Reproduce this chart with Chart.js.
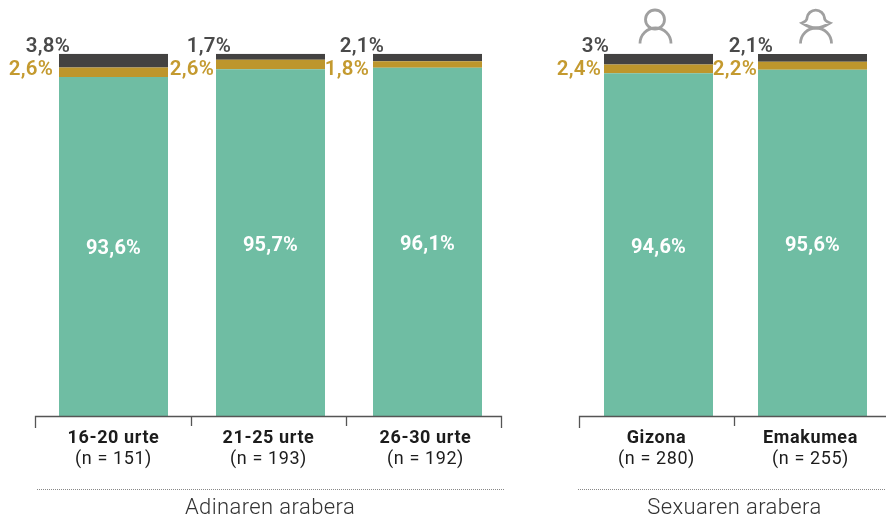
<!DOCTYPE html>
<html>
<head>
<meta charset="utf-8">
<script src="https://cdn.jsdelivr.net/npm/chart.js@4/dist/chart.umd.min.js"></script>
<style>
html, body { margin: 0; padding: 0; background: #fff; width: 886px; height: 515px; overflow: hidden; }
canvas { position: absolute; top: 0; left: 0; }
svg { position: absolute; left: 0; top: 0; }
.group { position: absolute; top: 494px; font: 300 22px Roboto, sans-serif; letter-spacing: 0.4px; color: #333; text-align: center; line-height: 26px; }
</style>
</head>
<body>
<div style="position:absolute;left:0;top:0;width:540px;height:515px"><canvas id="ageChart"></canvas></div>
<div style="position:absolute;left:540px;top:0;width:360px;height:515px"><canvas id="sexChart"></canvas></div>
<svg width="886" height="515" fill="none">
  <!-- brackets under the bars -->
  <path d="M35.5 428V416.5H501.5V428M191.5 416.5V426M346.5 416.5V426" stroke="#555" stroke-width="1.3"/>
  <path d="M579.5 428V416.5H886M734.5 416.5V426" stroke="#555" stroke-width="1.3"/>
  <!-- dotted separators -->
  <path d="M37 489.5H504M578 489.5H886" stroke="#888" stroke-width="1" stroke-dasharray="1 1"/>
  <g stroke="#a0a0a0" stroke-width="2.8">
    <!-- gizona -->
    <circle cx="655" cy="19.5" r="9.5"/>
    <path d="M640 43.5A15.5 15.5 0 0 1 671 43.5"/>
    <!-- emakumea -->
    <path d="M802 23Q807 21 807 18A8.8 8.8 0 0 1 824.5 18Q824.5 21 830 23Q822 28 816 28Q810 28 802 23Z"/>
    <path d="M800.5 43.5A15.5 15.5 0 0 1 831.5 43.5"/>
  </g>
</svg>
<div class="group" style="left:37px;width:466px">Adinaren arabera</div>
<div class="group" style="left:578px;width:313px">Sexuaren arabera</div>

<script>
const ageLabels = ["16-20 urte", "21-25 urte", "26-30 urte"];
const ageCounts = ["(n = 151)", "(n = 193)", "(n = 192)"];
const ageGreen = [93.6, 95.7, 96.1];
const ageGold = [2.6, 2.6, 1.8];
const ageDark = [3.8, 1.7, 2.1];

const sexLabels = ["Gizona", "Emakumea"];
const sexCounts = ["(n = 280)", "(n = 255)"];
const sexGreen = [94.6, 95.6];
const sexGold = [2.4, 2.2];
const sexDark = [3, 2.1];

const GREEN = "#6fbda3";
const GOLD = "#bd962c";
const DARK = "#434241";

function pct(v) {
    return String(v).replace(".", ",") + "%";
}

// value and category labels, drawn from the bar elements
const barText = {
    id: "barText",
    afterDatasetsDraw(chart, args, opts) {
        const ctx = chart.ctx;
        const sets = chart.data.datasets;
        const bars = i => chart.getDatasetMeta(i).data;
        ctx.save();
        ctx.textBaseline = "alphabetic";
        bars(0).forEach((bar, i) => {
            const left = bar.x - bar.width / 2;

            ctx.letterSpacing = "0.2px";
            ctx.font = "700 20px Roboto, sans-serif";
            ctx.textAlign = "center";
            ctx.fillStyle = "#fff";
            ctx.fillText(pct(sets[0].data[i]), bar.x, (bar.y + bar.base) / 2 + 8);

            ctx.font = "600 20.5px Roboto, sans-serif";
            ctx.textAlign = "right";
            ctx.fillStyle = "#c49a2f";
            ctx.fillText(pct(sets[1].data[i]), left + opts.goldShift[i], 75);

            ctx.fillStyle = "#4a4a4a";
            ctx.fillText(pct(sets[2].data[i]), left + opts.darkShift[i], 52);

            const cx = bar.x + opts.labelShift[i];
            ctx.textAlign = "center";
            ctx.fillStyle = "#1c1c1c";
            ctx.letterSpacing = "0.6px";
            ctx.font = "700 18px Roboto, sans-serif";
            ctx.fillText(chart.data.labels[i], cx, 443);
            ctx.font = "400 18px Roboto, sans-serif";
            ctx.fillText(opts.counts[i], cx, 464);
        });
        ctx.restore();
    }
};

function stackedChart(id, size, padding, labels, green, gold, dark, barPct, text) {
    const canvas = document.getElementById(id);
    canvas.width = size;
    canvas.height = 515;
    canvas.style.width = size + "px";
    canvas.style.height = "515px";
    const bar = { barPercentage: barPct, categoryPercentage: 1, borderWidth: 0 };
    return new Chart(canvas, {
        type: "bar",
        data: {
            labels: labels,
            datasets: [
                { ...bar, data: green, backgroundColor: GREEN },
                { ...bar, data: gold, backgroundColor: GOLD },
                { ...bar, data: dark, backgroundColor: DARK }
            ]
        },
        plugins: [barText],
        options: {
            responsive: false,
            animation: false,
            layout: { padding: padding },
            plugins: {
                legend: { display: false },
                tooltip: { enabled: false },
                barText: text
            },
            scales: {
                x: { stacked: true, display: false },
                y: { stacked: true, display: false, min: 0, max: 100 }
            }
        }
    });
}

stackedChart("ageChart", 540, { left: 35, right: 34, top: 53.7, bottom: 99 },
    ageLabels, ageGreen, ageGold, ageDark, 109 / 157,
    { counts: ageCounts, goldShift: [-6, -2, -4], darkShift: [11, 15, 11], labelShift: [0, -2, -2] });

stackedChart("sexChart", 360, { left: 41.5, right: 10.5, top: 53.7, bottom: 99 },
    sexLabels, sexGreen, sexGold, sexDark, 109 / 154,
    { counts: sexCounts, goldShift: [-3, -1], darkShift: [5, 15], labelShift: [-2, -2] });
</script>
</body>
</html>
